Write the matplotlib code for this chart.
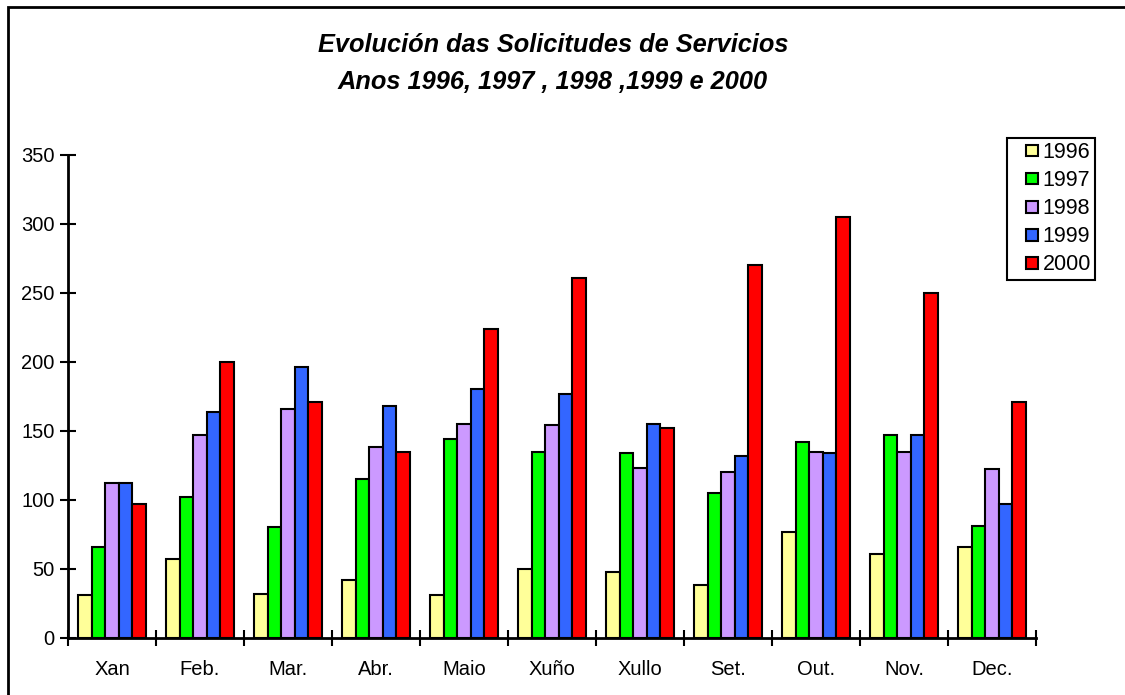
import numpy as np
import matplotlib.pyplot as plt
from matplotlib.patches import Rectangle
from matplotlib.legend_handler import HandlerPatch

plt.rcParams['font.family'] = ['Liberation Sans', 'DejaVu Sans']

months = ['Xan', 'Feb.', 'Mar.', 'Abr.', 'Maio', 'Xuño', 'Xullo', 'Set.', 'Out.', 'Nov.', 'Dec.']
years = ['1996', '1997', '1998', '1999', '2000']

v1996 = [31, 57, 32, 42, 31, 50, 48, 38, 77, 61, 66]
v1997 = [66, 102, 80, 115, 144, 135, 134, 105, 142, 147, 81]
v1998 = [112, 147, 166, 138, 155, 154, 123, 120, 135, 135, 122]
v1999 = [112, 164, 196, 168, 180, 177, 155, 132, 134, 147, 97]
v2000 = [97, 200, 171, 135, 224, 261, 152, 270, 305, 250, 171]

colors = ['#FFFF99', '#00FF00', '#CC99FF', '#3366FF', '#FF0000']

W, H = 1125, 695
fig = plt.figure(figsize=(W / 100, H / 100), dpi=100)

# outer frame (cut off at right and bottom like the original)
fig.patches.append(Rectangle((8 / W, -0.2), 1.2, 1.2 - 7 / H,
                             transform=fig.transFigure, fill=False,
                             edgecolor='black', linewidth=2, clip_on=False))

ax = fig.add_axes([68 / W, (H - 637.7) / H, 968 / W, (637.7 - 155) / H])

x = np.arange(len(months))
bw = 0.155
series = [v1996, v1997, v1998, v1999, v2000]
for i, (vals, c, lab) in enumerate(zip(series, colors, years)):
    ax.bar(x + (i - 2) * bw, vals, bw, color=c, edgecolor='black',
           linewidth=1.5, label=lab, zorder=2)

ax.set_xlim(-0.5, len(months) - 0.5)
ax.set_ylim(0, 350)
ax.set_yticks(np.arange(0, 351, 50))
ax.set_xticks(x)
ax.set_xticklabels(months)
ax.set_xticks(np.arange(-0.5, len(months), 1), minor=True)
ax.tick_params(axis='x', which='major', length=0, pad=16, labelsize=14.5)
ax.tick_params(axis='x', which='minor', direction='inout', length=11, width=1.5)
ax.tick_params(axis='y', direction='inout', length=11, width=1.5, pad=4, labelsize=14.5)

for s in ['top', 'right']:
    ax.spines[s].set_visible(False)
for s in ['left', 'bottom']:
    ax.spines[s].set_linewidth(2)

fig.text(553 / W, 1 - 63.5 / H, 'Evolución das Solicitudes de Servicios\nAnos 1996, 1997 , 1998 ,1999 e 2000',
         ha='center', va='center', fontsize=18.3, fontweight='bold', style='italic',
         linespacing=1.7)


# small square swatch pushed to the right side of the handle box
def square(legend, orig_handle, xdescent, ydescent, width, height, fontsize):
    side = 0.55 * fontsize
    return Rectangle((-xdescent + width - side, -ydescent + (height - side) / 2), side, side)


handles = [Rectangle((0, 0), 1, 1, facecolor=c, edgecolor='black', linewidth=1.5) for c in colors]
leg = ax.legend(handles, years, loc='upper left', bbox_to_anchor=(1006.7 / W, 1 - 137.7 / H),
                bbox_transform=fig.transFigure, fancybox=False, framealpha=1,
                edgecolor='black', fontsize=15.5, handlelength=1.25, handleheight=0.7,
                handletextpad=0.22, labelspacing=0.33, borderpad=0.2, borderaxespad=0,
                handler_map={Rectangle: HandlerPatch(patch_func=square)})
leg.get_frame().set_linewidth(1.5)

fig.savefig('out.png', dpi=100)
